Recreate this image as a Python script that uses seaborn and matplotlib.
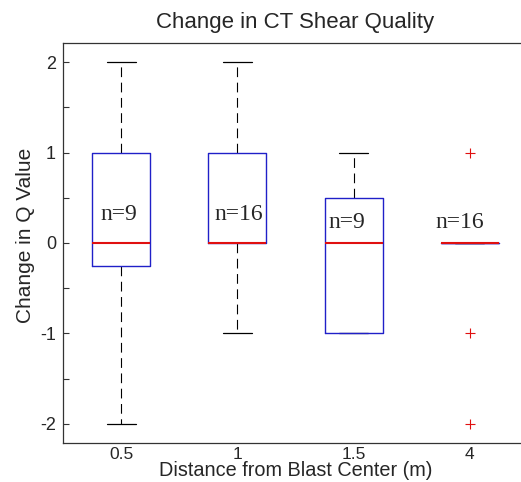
import numpy as np
import seaborn as sns
from matplotlib import pyplot as plt

# change in Q value per shear test, grouped by distance from blast center
distances = ['0.5', '1', '1.5', '4']
q_change_05 = [-2, -1, 0, 0, 0, 0, 1, 1, 2]
q_change_1 = [-1, -1, 0, 0, 0, 0, 0, 0, 0, 1, 1, 1, 1, 1, 2, 2]
q_change_15 = [-1, -1, -1, -1, 0, 0, 0.5, 0.5, 1]
q_change_4 = [-2, -1, 0, 0, 0, 0, 0, 0, 0, 0, 0, 0, 0, 0, 0, 1]
groups = [q_change_05, q_change_1, q_change_15, q_change_4]
y_ticks = [-2, -1.5, -1, -0.5, 0, 0.5, 1, 1.5, 2]


def box_stats(values, label):
    # matlab style quartiles ((i - 0.5) / n), whiskers at 1.5 IQR
    v = np.sort(np.asarray(values, dtype=float))
    q1, med, q3 = np.quantile(v, [0.25, 0.5, 0.75], method='hazen')
    iqr = q3 - q1
    lo = v[v >= q1 - 1.5 * iqr].min()
    hi = v[v <= q3 + 1.5 * iqr].max()
    fliers = v[(v < lo) | (v > hi)]
    return dict(label=label, q1=q1, med=med, q3=q3,
                whislo=lo, whishi=hi, fliers=fliers)


sns.set_style('white')
plt.rcParams['font.family'] = ['Liberation Sans', 'DejaVu Sans']
plt.rcParams['lines.scale_dashes'] = False

fig = plt.figure(figsize=(5.21, 4.82), dpi=100)
ax = fig.add_axes([63 / 521, 1 - 443 / 482, (528 - 63) / 521, 400 / 482])

positions = np.arange(1, len(groups) + 1)
stats = [box_stats(g, d) for g, d in zip(groups, distances)]
ax.bxp(stats, positions=positions, widths=0.5, capwidths=0.25,
       boxprops=dict(color='#2020c8', lw=1.0, zorder=3),
       whiskerprops=dict(color='black', lw=0.8, linestyle=(0, (7, 4)),
                         zorder=1.5),
       capprops=dict(color='black', lw=0.9, zorder=1.5),
       medianprops=dict(color='#e01010', lw=1.5, zorder=4),
       flierprops=dict(marker='+', markeredgecolor='#e01010',
                       markersize=7, markeredgewidth=0.8))

# sample counts
label_x = [0.98, 2.01, 2.94, 3.91]
label_y = [0.31, 0.31, 0.23, 0.23]
for x, y, g in zip(label_x, label_y, groups):
    ax.text(x, y, f'n={len(g)}', ha='center', va='center',
            family='Liberation Serif', fontsize=17)

ax.set_xlim(0.5, 4.5)
ax.set_ylim(-2.21, 2.21)
ax.set_yticks(y_ticks)
ax.set_yticklabels([f'{t:g}' if t == int(t) else '' for t in y_ticks])
ax.set_xticks(positions)
ax.set_xticklabels(distances)
ax.tick_params(axis='y', left=True, direction='in', length=4, width=0.8,
               color='#333333', labelsize=13, pad=5)
ax.tick_params(axis='x', length=0, labelsize=12.5, pad=3)
for s in ax.spines.values():
    s.set_color('#333333')
    s.set_linewidth(0.9)

ax.set_title('Change in CT Shear Quality', fontsize=16, pad=11)
ax.set_xlabel('Distance from Blast Center (m)', fontsize=14.3, labelpad=-1)
ax.set_ylabel('Change in Q Value', fontsize=15)
ax.yaxis.set_label_coords(-0.06, 0.52)

fig.savefig('out.png', dpi=100)
